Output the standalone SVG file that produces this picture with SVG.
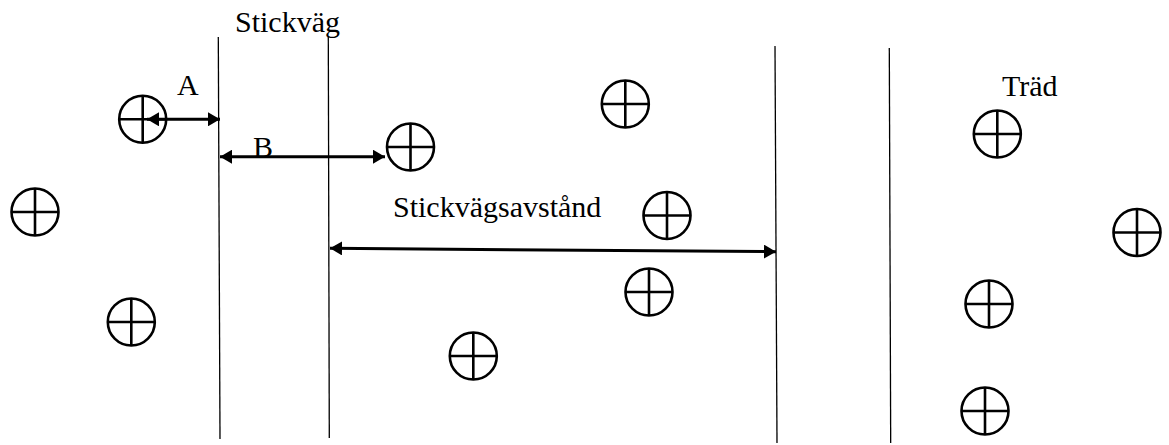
<svg xmlns="http://www.w3.org/2000/svg" width="1169" height="445" viewBox="0 0 1169 445">
  <style>
    .road { stroke: #000; stroke-width: 1.3; fill: none; }
    .tree circle, .tree line { stroke: #000; stroke-width: 2.6; fill: none; }
    .dim { stroke: #000; stroke-width: 3; fill: none; marker-start: url(#head); marker-end: url(#head); }
    text { font-family: "Liberation Serif", "Times New Roman", serif; font-size: 30px; fill: #000; }
  </style>
  <defs>
    <marker id="head" viewBox="0 0 12 14" refX="12" refY="7" markerWidth="12" markerHeight="14" markerUnits="userSpaceOnUse" orient="auto-start-reverse">
      <path d="M0,0 L12,7 L0,14 Z" fill="#000"/>
    </marker>
    <g id="treeSym" class="tree">
      <circle cx="0" cy="0" r="23.5"/>
      <line x1="-23.5" y1="0" x2="23.5" y2="0"/>
      <line x1="0" y1="-23.5" x2="0" y2="23.5"/>
    </g>
  </defs>

  <!-- strip roads (stickvägar) -->
  <g id="roads">
    <line class="road" x1="218.3" y1="37" x2="220" y2="439"/>
    <line class="road" x1="328.3" y1="37" x2="329.3" y2="438"/>
    <line class="road" x1="775" y1="46" x2="777" y2="443"/>
    <line class="road" x1="889.3" y1="48" x2="890.7" y2="443"/>
  </g>

  <!-- trees -->
  <g id="tree-1"><use href="#treeSym" x="142.7" y="119.3"/></g>
  <g id="tree-2"><use href="#treeSym" x="410.5" y="147"/></g>
  <g id="tree-3"><use href="#treeSym" x="35" y="212"/></g>
  <g id="tree-4"><use href="#treeSym" x="131.3" y="322"/></g>
  <g id="tree-5"><use href="#treeSym" x="473.3" y="356"/></g>
  <g id="tree-6"><use href="#treeSym" x="625.3" y="104"/></g>
  <g id="tree-7"><use href="#treeSym" x="667" y="215.5"/></g>
  <g id="tree-8"><use href="#treeSym" x="649" y="292"/></g>
  <g id="tree-9"><use href="#treeSym" x="997.3" y="134"/></g>
  <g id="tree-10"><use href="#treeSym" x="1137" y="232.5"/></g>
  <g id="tree-11"><use href="#treeSym" x="989" y="304"/></g>
  <g id="tree-12"><use href="#treeSym" x="985" y="411"/></g>

  <!-- dimension arrows -->
  <g id="connectors">
    <line class="dim" x1="147" y1="119.3" x2="220" y2="119.3"/>
    <line class="dim" x1="220" y1="156.7" x2="385" y2="156.7"/>
    <line class="dim" x1="330" y1="248.3" x2="776" y2="251.7"/>
  </g>

  <!-- labels -->
  <g id="labels">
    <text x="235" y="32" font-size="29">Stickväg</text>
    <text x="177" y="95">A</text>
    <text x="253" y="157">B</text>
    <text x="393" y="217" font-size="32">Stickvägsavstånd</text>
    <text x="1002" y="96" font-size="31">Träd</text>
  </g>
</svg>
